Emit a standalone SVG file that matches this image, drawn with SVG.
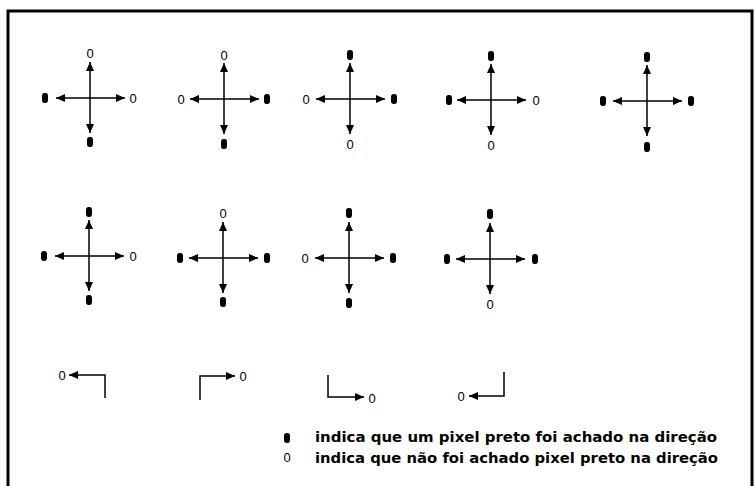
<svg xmlns="http://www.w3.org/2000/svg" xmlns:xlink="http://www.w3.org/1999/xlink" width="754" height="486" viewBox="0 0 754 486">
  <style>
    .ln { stroke: #000; stroke-width: 1.5; fill: none; }
    .arr { marker-end: url(#ah); }
    .z { font-family: "Liberation Sans", Arial, sans-serif; font-size: 13px; fill: #000; text-anchor: middle; opacity: 0.99; }
    .lg { font-family: "DejaVu Sans", "Liberation Sans", sans-serif; font-size: 14px; font-weight: bold; fill: #000; opacity: 0.99; }
    .frame { stroke: #000; stroke-width: 3; fill: none; }
  </style>
  <defs>
    <marker id="ah" viewBox="0 0 9 8" refX="9" refY="4" markerWidth="9" markerHeight="8" markerUnits="userSpaceOnUse" orient="auto">
      <path d="M0,0 L9,4 L0,8 z" fill="#000"/>
    </marker>
    <!-- black pixel marker -->
    <rect id="dot" x="-3" y="-5" width="6" height="10" rx="2.6" ry="3" fill="#000"/>
    <!-- four-way arrows -->
    <g id="axes">
      <line class="ln arr" x1="0" y1="0" x2="0" y2="-36"/>
      <line class="ln arr" x1="0" y1="0" x2="0" y2="35"/>
      <line class="ln arr" x1="0" y1="0" x2="-34" y2="0"/>
      <line class="ln arr" x1="0" y1="0" x2="35" y2="0"/>
    </g>
  </defs>

  <!-- outer frame -->
  <path class="frame" d="M8,486 L8,11 L752,11 L752,486"/>

  <!-- row 1 -->
  <g id="c1" transform="translate(90,98)">
    <use xlink:href="#axes"/>
    <text class="z" x="0" y="-40">0</text>
    <use xlink:href="#dot" x="0" y="44"/>
    <use xlink:href="#dot" x="-45" y="0"/>
    <text class="z" x="43" y="5">0</text>
  </g>
  <g id="c2" transform="translate(224,99)">
    <use xlink:href="#axes"/>
    <text class="z" x="0" y="-39">0</text>
    <use xlink:href="#dot" x="0" y="45"/>
    <text class="z" x="-43" y="5">0</text>
    <use xlink:href="#dot" x="43" y="0"/>
  </g>
  <g id="c3" transform="translate(350,99)">
    <use xlink:href="#axes"/>
    <use xlink:href="#dot" x="0" y="-44"/>
    <text class="z" x="0" y="50">0</text>
    <text class="z" x="-44" y="5">0</text>
    <use xlink:href="#dot" x="44" y="0"/>
  </g>
  <g id="c4" transform="translate(491,100)">
    <use xlink:href="#axes"/>
    <use xlink:href="#dot" x="0" y="-44"/>
    <text class="z" x="0" y="50">0</text>
    <use xlink:href="#dot" x="-42" y="0"/>
    <text class="z" x="45" y="5">0</text>
  </g>
  <g id="c5" transform="translate(647,101)">
    <use xlink:href="#axes"/>
    <use xlink:href="#dot" x="0" y="-44"/>
    <use xlink:href="#dot" x="0" y="46"/>
    <use xlink:href="#dot" x="-44" y="0"/>
    <use xlink:href="#dot" x="44" y="0"/>
  </g>

  <!-- row 2 -->
  <g id="c6" transform="translate(89,256)">
    <use xlink:href="#axes"/>
    <use xlink:href="#dot" x="0" y="-44"/>
    <use xlink:href="#dot" x="0" y="44"/>
    <use xlink:href="#dot" x="-45" y="0"/>
    <text class="z" x="44" y="5">0</text>
  </g>
  <g id="c7" transform="translate(223,258)">
    <use xlink:href="#axes"/>
    <text class="z" x="0" y="-40">0</text>
    <use xlink:href="#dot" x="0" y="44"/>
    <use xlink:href="#dot" x="-43" y="0"/>
    <use xlink:href="#dot" x="44" y="0"/>
  </g>
  <g id="c8" transform="translate(349,258)">
    <use xlink:href="#axes"/>
    <use xlink:href="#dot" x="0" y="-45"/>
    <use xlink:href="#dot" x="0" y="45"/>
    <text class="z" x="-44" y="5">0</text>
    <use xlink:href="#dot" x="44" y="0"/>
  </g>
  <g id="c9" transform="translate(490,259)">
    <use xlink:href="#axes"/>
    <use xlink:href="#dot" x="0" y="-45"/>
    <text class="z" x="0" y="50">0</text>
    <use xlink:href="#dot" x="-43" y="0"/>
    <use xlink:href="#dot" x="45" y="0"/>
  </g>

  <!-- row 3: corner turns -->
  <g id="t1">
    <path class="ln arr" d="M105,398 L105,375 L69,375"/>
    <text class="z" x="62" y="380">0</text>
  </g>
  <g id="t2">
    <path class="ln arr" d="M200,400 L200,376 L235,376"/>
    <text class="z" x="243" y="381">0</text>
  </g>
  <g id="t3">
    <path class="ln arr" d="M328,375 L328,397 L364,397"/>
    <text class="z" x="372" y="403">0</text>
  </g>
  <g id="t4">
    <path class="ln arr" d="M504,372 L504,396 L469,396"/>
    <text class="z" x="461" y="401">0</text>
  </g>

  <!-- legend -->
  <g id="legend">
    <use xlink:href="#dot" x="287" y="438"/>
    <text class="lg" x="315" y="442" textLength="402" lengthAdjust="spacingAndGlyphs">indica que um pixel preto foi achado na direção</text>
    <text class="z" x="287" y="462">0</text>
    <text class="lg" x="315" y="463" textLength="403" lengthAdjust="spacingAndGlyphs">indica que não foi achado pixel preto na direção</text>
  </g>
</svg>
